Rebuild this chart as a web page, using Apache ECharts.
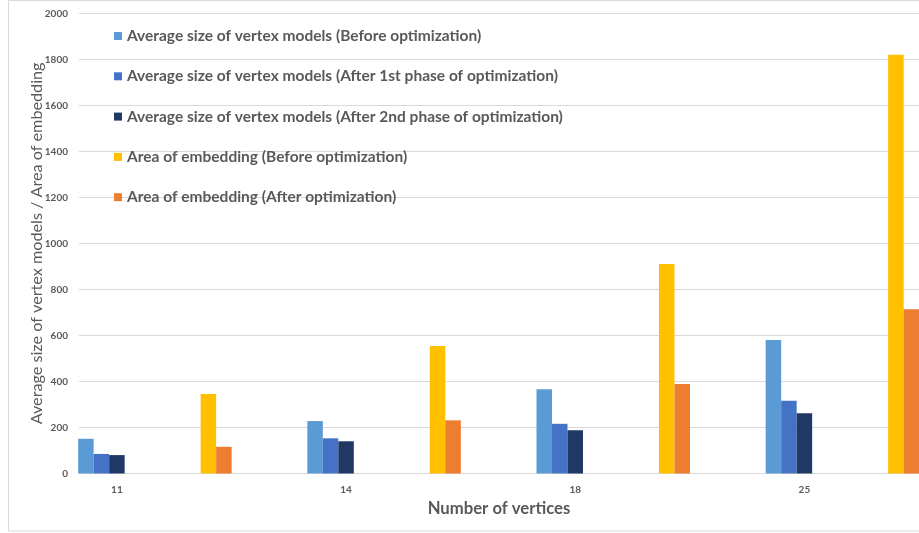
<!DOCTYPE html>
<html>
<head>
<meta charset="utf-8">
<script src="https://cdn.jsdelivr.net/npm/echarts@6/dist/echarts.min.js"></script>
<style>
  html, body { margin: 0; padding: 0; background: #fff; }
  #chart { width: 919px; height: 533px; }
</style>
</head>
<body>
<div id="chart"></div>
<script>
// Number of vertices on the category axis
const categories = ['11', '14', '18', '25'];

// Average size of vertex models
const avgBefore = [151, 228, 366, 580];
const avgAfter1st = [85, 153, 216, 316];
const avgAfter2nd = [80, 140, 188, 262];

// Area of embedding
const areaBefore = [345, 554, 910, 1820];
const areaAfter = [116, 231, 389, 714];

const seriesNames = [
  'Average size of vertex models (Before optimization)',
  'Average size of vertex models (After 1st phase of optimization)',
  'Average size of vertex models (After 2nd phase of optimization)',
  'Area of embedding (Before optimization)',
  'Area of embedding (After optimization)'
];
const seriesColors = ['#5B9BD5', '#4472C4', '#203864', '#FFC000', '#ED7D31'];

const FONT = 'Lato, "Open Sans", sans-serif';
const TEXT_GRAY = '#595959';
const GRID_GRAY = '#d9d9d9';
const BAR_W = 15.5;
const TOP = 13.3;
const PLOT_H = 460.2;
const BAND = 229.4;

// empty placeholder series reserving room between the bar groups
function spacer(width) {
  return {
    type: 'bar',
    name: '',
    xAxisIndex: 0,
    yAxisIndex: 0,
    barWidth: width,
    barGap: 0,
    data: categories.map(() => null),
    silent: true
  };
}

function barSeries(i, values) {
  return {
    type: 'bar',
    name: seriesNames[i],
    xAxisIndex: 0,
    yAxisIndex: 0,
    barWidth: BAR_W,
    barGap: 0,
    itemStyle: { color: seriesColors[i] },
    data: values
  };
}

const chart = echarts.init(document.getElementById('chart'), null, { renderer: 'canvas' });

chart.setOption({
  animation: false,
  backgroundColor: '#ffffff',
  textStyle: { fontFamily: FONT },
  graphic: [{
    type: 'rect',
    shape: { x: 8.5, y: 0.5, width: 930, height: 530.5 },
    style: { fill: 'none', stroke: GRID_GRAY, lineWidth: 1 },
    z: -10,
    silent: true
  }],
  legend: {
    orient: 'vertical',
    left: 114,
    top: 28,
    padding: 0,
    itemWidth: 8,
    itemHeight: 8,
    itemGap: 24.3,
    icon: 'rect',
    data: seriesNames,
    textStyle: {
      fontFamily: FONT,
      fontSize: 15.5,
      fontWeight: 'bold',
      color: TEXT_GRAY,
      lineHeight: 14
    },
    selectedMode: false
  },
  grid: [
    // bars
    { left: 2.3, top: TOP, width: BAND * 4, height: PLOT_H },
    // value axis, gridlines and axis titles
    { left: 79, top: TOP, width: 848, height: PLOT_H }
  ],
  xAxis: [
    {
      gridIndex: 0,
      type: 'category',
      data: categories,
      axisLine: { show: false },
      axisTick: { show: false },
      axisLabel: {
        margin: 11,
        fontFamily: FONT,
        fontSize: 10,
        fontWeight: 'bold',
        color: TEXT_GRAY
      }
    },
    {
      gridIndex: 1,
      type: 'category',
      data: categories,
      axisLine: { show: false },
      axisTick: { show: false },
      axisLabel: { show: false },
      name: 'Number of vertices',
      nameLocation: 'middle',
      nameGap: 27,
      nameTextStyle: {
        fontFamily: FONT,
        fontSize: 16.7,
        fontWeight: 'bold',
        color: TEXT_GRAY
      }
    }
  ],
  yAxis: [
    {
      gridIndex: 0,
      type: 'value',
      min: 0,
      max: 2000,
      interval: 200,
      show: false
    },
    {
      gridIndex: 1,
      type: 'value',
      min: 0,
      max: 2000,
      interval: 200,
      axisLine: { show: false },
      axisTick: { show: false },
      splitLine: { show: true, lineStyle: { color: GRID_GRAY, width: 1 } },
      axisLabel: {
        margin: 11,
        fontFamily: FONT,
        fontSize: 10,
        fontWeight: 'bold',
        color: TEXT_GRAY,
        formatter: (v) => String(v)
      },
      name: 'Average size of vertex models / Area of embedding',
      nameLocation: 'middle',
      nameRotate: 90,
      nameGap: 34.5,
      nameMoveOverlap: false,
      nameTextStyle: {
        fontFamily: FONT,
        fontSize: 16.2,
        color: TEXT_GRAY
      }
    }
  ],
  series: [
    spacer(76),
    barSeries(0, avgBefore),
    barSeries(1, avgAfter1st),
    barSeries(2, avgAfter2nd),
    spacer(76),
    barSeries(3, areaBefore),
    barSeries(4, areaAfter)
  ]
});
</script>
</body>
</html>
